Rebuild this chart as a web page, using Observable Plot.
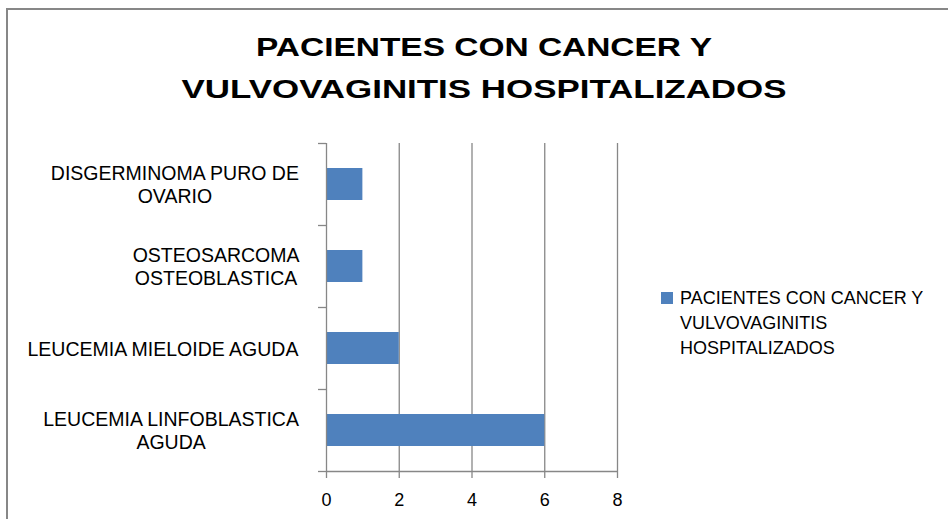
<!DOCTYPE html>
<html><head><meta charset="utf-8">
<script src="https://cdn.jsdelivr.net/npm/d3@7"></script>
<script src="https://cdn.jsdelivr.net/npm/@observablehq/plot@0.6"></script>
<style>
html,body{margin:0;padding:0;background:#fff;}
#chart{position:relative;width:948px;height:519px;overflow:hidden;font-family:"Liberation Sans",Arial,sans-serif;background:#fff;}
#chart > svg{position:absolute;left:0;top:0;}
#frame{position:absolute;left:6px;top:8px;width:1000px;height:600px;border-left:2px solid #878787;border-top:2px solid #878787;z-index:5;pointer-events:none;}
#title{position:absolute;left:0;top:0;z-index:4;}
#legend-swatch{position:absolute;left:661px;top:292px;width:12px;height:12px;z-index:4;}
#legend-text{position:absolute;left:680px;top:285.5px;font-size:18px;line-height:25px;white-space:pre;color:#000;z-index:4;}
</style></head>
<body>
<div id="chart"><div id="frame"></div></div>
<script>
// ---- data ----
const titleLines = ["PACIENTES CON CANCER Y", "VULVOVAGINITIS HOSPITALIZADOS"];
const categories = ["LEUCEMIA LINFOBLASTICA\nAGUDA", "LEUCEMIA MIELOIDE AGUDA", "OSTEOSARCOMA\nOSTEOBLASTICA", "DISGERMINOMA PURO DE\nOVARIO"];
const values = [6, 2, 1, 1];
const xTicks = [0, 2, 4, 6, 8];
const seriesName = "PACIENTES CON CANCER Y\nVULVOVAGINITIS\nHOSPITALIZADOS";

const barColor = "#4f81bd";
const gridColor = "#878787";
const labelFont = 19.5;

const data = categories.map((c, i) => ({category: c, index: i, value: values[i]}));
const boundaries = d3.range(categories.length + 1);

// measure widest line of each label so the block is centred, right-aligned near the axis
const ctx = document.createElement("canvas").getContext("2d");
ctx.font = `${labelFont}px "Liberation Sans"`;
const widest = categories.map(c => d3.max(c.split("\n"), s => ctx.measureText(s).width));

const labelMarks = data.map((d, i) => Plot.text([d], {
  x: () => 0,
  y: r => r.index + 0.5,
  text: "category",
  textAnchor: "middle",
  dx: -(27 + widest[i] / 2),
  fontSize: labelFont,
  lineHeight: 1.18,
  fill: "#000"
}));

const chart = Plot.plot({
  width: 948,
  height: 519,
  marginLeft: 326,
  marginRight: 331,
  marginTop: 143,
  marginBottom: 48,
  style: {background: "transparent", fontFamily: "'Liberation Sans', Arial, sans-serif"},
  x: {domain: [0, 8], label: null},
  y: {domain: [0, categories.length], label: null},
  marks: [
    Plot.gridX({ticks: xTicks.filter(t => t > 0), stroke: gridColor, strokeOpacity: 1, strokeWidth: 1.3}),
    Plot.rect(data, {
      x1: () => 0,
      x2: "value",
      y1: "index",
      y2: d => d.index + 1,
      insetTop: 25,
      insetBottom: 25,
      fill: barColor
    }),
    Plot.ruleX([0], {stroke: gridColor, strokeWidth: 1.3}),
    Plot.ruleY([0], {stroke: gridColor, strokeWidth: 1.3}),
    Plot.axisX({ticks: xTicks, tickSize: 7, tickPadding: 15, fontSize: 18, label: null, stroke: gridColor, strokeWidth: 1.3, fill: "#000", tickFormat: d3.format("d")}),
    Plot.axisY({ticks: boundaries, tickSize: 8, label: null, tickFormat: () => "", stroke: gridColor, strokeWidth: 1.3}),
    ...labelMarks
  ]
});
const root = document.getElementById("chart");
root.appendChild(chart);

// title
const svgNS = "http://www.w3.org/2000/svg";
const tsvg = document.createElementNS(svgNS, "svg");
tsvg.setAttribute("id", "title");
tsvg.setAttribute("width", 948);
tsvg.setAttribute("height", 130);
const titleWidths = [456, 605];
const titleBase = [55.5, 98];
titleLines.forEach((line, i) => {
  const t = document.createElementNS(svgNS, "text");
  t.setAttribute("x", 484);
  t.setAttribute("y", titleBase[i]);
  t.setAttribute("text-anchor", "middle");
  t.setAttribute("font-family", "'Liberation Sans', Arial, sans-serif");
  t.setAttribute("font-weight", "bold");
  t.setAttribute("font-size", 26.5);
  t.setAttribute("textLength", titleWidths[i]);
  t.setAttribute("lengthAdjust", "spacingAndGlyphs");
  t.setAttribute("fill", "#000");
  t.textContent = line;
  tsvg.appendChild(t);
});
root.appendChild(tsvg);

// legend
const sw = document.createElement("div");
sw.id = "legend-swatch";
sw.style.background = barColor;
root.appendChild(sw);
const lt = document.createElement("div");
lt.id = "legend-text";
lt.textContent = seriesName;
root.appendChild(lt);
</script>
</body></html>
